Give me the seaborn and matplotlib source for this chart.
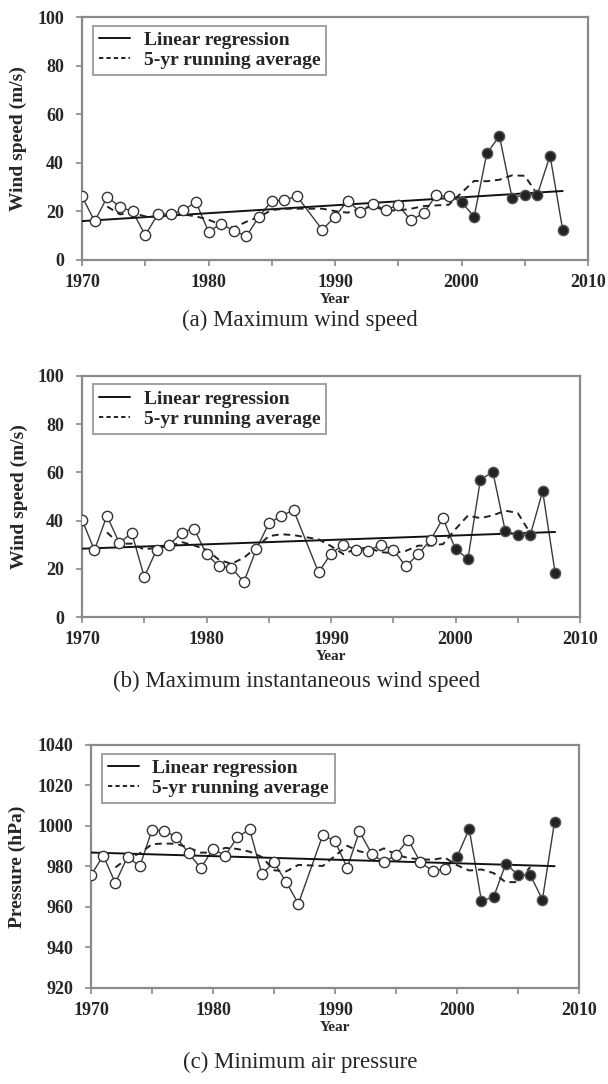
import numpy as np
import pandas as pd
import matplotlib
matplotlib.use("Agg")
import matplotlib.pyplot as plt
from matplotlib.ticker import MultipleLocator
import seaborn as sns

# ---------------- data ----------------
years = [1970, 1971, 1972, 1973, 1974, 1975, 1976, 1977, 1978, 1979,
         1980, 1981, 1982, 1983, 1984, 1985, 1986, 1987, 1989,
         1990, 1991, 1992, 1993, 1994, 1995, 1996, 1997, 1998, 1999,
         2000, 2001, 2002, 2003, 2004, 2005, 2006, 2007, 2008]

max_wind = [26.2, 15.9, 26.0, 21.8, 20.0, 10.2, 18.9, 18.9, 20.4, 23.9,
            11.7, 14.9, 12.0, 9.8, 17.9, 24.3, 24.7, 26.2, 12.4,
            17.9, 24.4, 19.7, 23.0, 20.7, 22.5, 16.3, 19.3, 26.6, 26.2,
            23.9, 17.8, 43.9, 51.0, 25.5, 26.9, 26.9, 43.0, 12.4]

max_inst_wind = [40.4, 27.7, 42.0, 30.7, 34.9, 16.6, 28.0, 29.8, 35.0, 36.7,
                 26.0, 21.1, 20.5, 14.5, 28.1, 38.8, 42.0, 44.3, 18.5,
                 26.3, 30.0, 28.0, 27.5, 30.0, 28.0, 21.0, 26.0, 32.0, 41.0,
                 28.1, 24.2, 57.0, 60.2, 35.6, 33.9, 33.9, 52.2, 18.4]

min_pressure = [975.6, 985.4, 971.8, 984.9, 980.0, 998.1, 997.6, 994.5, 986.6, 979.2,
                988.6, 985.4, 994.5, 998.4, 976.4, 982.0, 972.3, 961.6, 995.6,
                992.5, 979.3, 997.3, 986.4, 982.0, 985.8, 993.3, 982.0, 977.9, 978.7,
                984.8, 998.6, 963.1, 964.9, 981.3, 975.9, 975.9, 963.6, 1002.2]

split_year = 2000  # open markers before, filled markers from this year on

panels = [
    dict(values=max_wind, ylabel="Wind speed (m/s)", ylim=(0, 100), ystep=20,
         caption="(a) Maximum wind speed", ylab_x=-0.108,
         rect=[82 / 608, 1 - 260 / 1084, 506 / 608, 243 / 1084],
         cap_xy=(300 / 608, 1 - 320 / 1084)),
    dict(values=max_inst_wind, ylabel="Wind speed (m/s)", ylim=(0, 100), ystep=20,
         caption="(b) Maximum instantaneous wind speed", ylab_x=-0.108,
         rect=[82 / 608, 1 - 617 / 1084, 498 / 608, 241 / 1084],
         cap_xy=(297 / 608, 1 - 681 / 1084)),
    dict(values=min_pressure, ylabel="Pressure (hPa)", ylim=(920, 1040), ystep=20,
         caption="(c) Minimum air pressure", ylab_x=-0.134,
         rect=[91 / 608, 1 - 988 / 1084, 488 / 608, 243 / 1084],
         cap_xy=(300 / 608, 1 - 1062 / 1084)),
]

# ---------------- style ----------------
sns.set_style("ticks")
plt.rcParams["font.family"] = ["Liberation Serif", "DejaVu Serif"]
plt.rcParams["font.weight"] = "bold"

SPINE = "#8a8a8a"
LINE = "#3a3a3a"

fig = plt.figure(figsize=(6.08, 10.84), dpi=100)

for p in panels:
    ax = fig.add_axes(p["rect"])
    df = pd.DataFrame({"year": years, "value": p["values"]})
    df["group"] = np.where(df["year"] < split_year, "open", "filled")
    df["running"] = df["value"].rolling(5, center=True).mean()

    # connecting line of the yearly values
    sns.lineplot(data=df, x="year", y="value", ax=ax, color=LINE, lw=1.0,
                 legend=False, zorder=2)
    # regression
    sns.regplot(data=df, x="year", y="value", ax=ax, scatter=False, ci=None,
                truncate=True, line_kws=dict(color="#111111", lw=1.4, zorder=3))
    reg_line = ax.lines[-1]
    # 5-yr running average
    sns.lineplot(data=df, x="year", y="running", ax=ax, color="#222222", lw=1.4,
                 legend=False, zorder=3)
    run_line = ax.lines[-1]
    run_line.set_linestyle((0, (3.5, 2.5)))
    # markers
    sns.scatterplot(data=df[df["group"] == "open"], x="year", y="value", ax=ax,
                    s=55, facecolor="white", edgecolor="#333333", linewidth=1.0,
                    zorder=4, legend=False)
    sns.scatterplot(data=df[df["group"] == "filled"], x="year", y="value", ax=ax,
                    s=55, color="#222222", edgecolor="#555555", linewidth=1.0,
                    zorder=4, legend=False)

    ax.set_xlim(1970, 2010)
    ax.set_ylim(*p["ylim"])
    ax.xaxis.set_major_locator(MultipleLocator(10))
    ax.xaxis.set_minor_locator(MultipleLocator(5))
    ax.yaxis.set_major_locator(MultipleLocator(p["ystep"]))
    for s in ax.spines.values():
        s.set_visible(True)
        s.set_color(SPINE)
        s.set_linewidth(1.6)
    ax.tick_params(which="both", direction="out", color=SPINE, width=1.2)
    ax.tick_params(which="major", length=4, labelsize=13, pad=9)
    ax.tick_params(which="minor", length=4)
    ax.tick_params(axis="x", pad=6)
    for lab in ax.get_xticklabels() + ax.get_yticklabels():
        lab.set_fontweight("bold")

    ax.set_xlabel("Year", fontsize=11, fontweight="bold")
    ax.xaxis.set_label_coords(0.5, -0.135)
    ax.set_ylabel(p["ylabel"], fontsize=14, fontweight="bold")
    ax.yaxis.set_label_coords(p["ylab_x"], 0.5)

    leg = ax.legend(handles=[reg_line, run_line],
                    labels=["Linear regression", "5-yr running average"],
                    loc="upper left", bbox_to_anchor=(0.022, 0.965),
                    borderaxespad=0, fancybox=False, frameon=True,
                    prop=dict(family="Liberation Serif", weight="bold", size=14),
                    handlelength=1.6, handletextpad=0.7, labelspacing=0.12,
                    borderpad=0.3)
    leg.get_frame().set_edgecolor(SPINE)
    leg.get_frame().set_linewidth(1.4)
    leg.legend_handles[1].set_linestyle((0, (2.2, 1.6)))

    fig.text(p["cap_xy"][0], p["cap_xy"][1], p["caption"], ha="center",
             va="center", fontsize=16.5, fontweight="normal",
             family="Liberation Serif")

fig.savefig("out.png", dpi=100)
